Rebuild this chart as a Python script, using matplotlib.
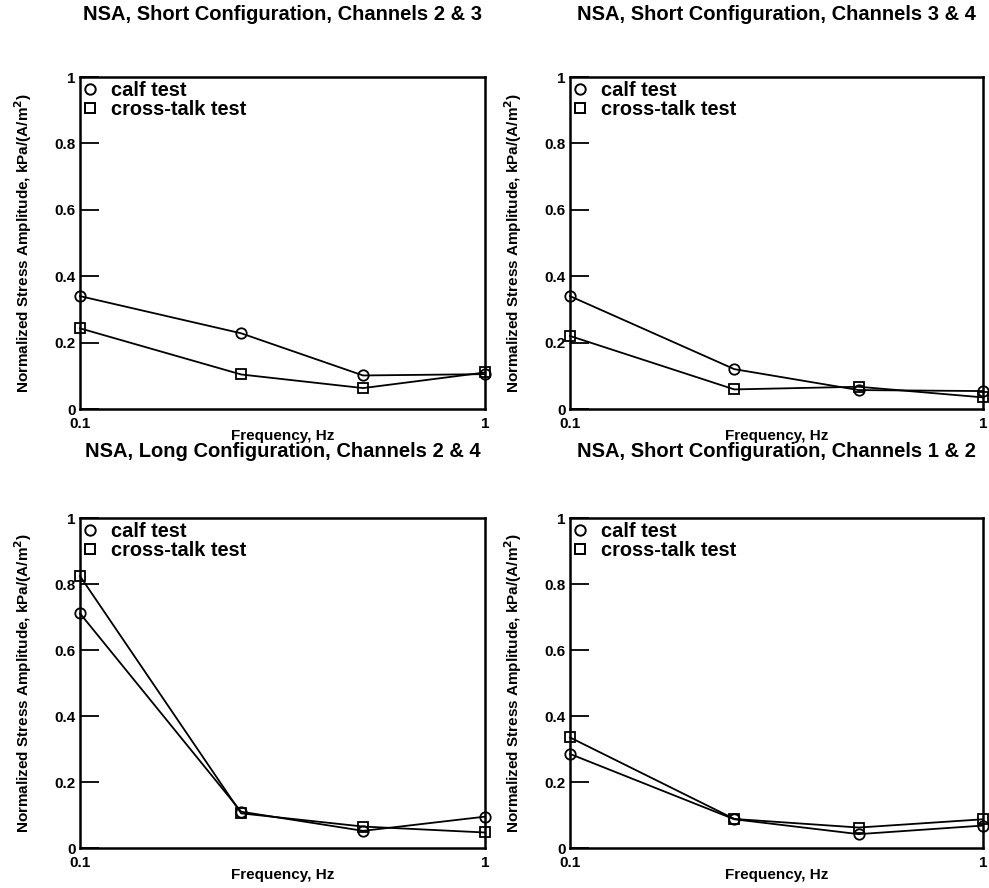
import matplotlib
matplotlib.use("Agg")
import matplotlib.pyplot as plt
from matplotlib.lines import Line2D

plt.rcParams['font.family'] = ['Liberation Sans', 'DejaVu Sans']
plt.rcParams['font.weight'] = 'bold'
plt.rcParams['mathtext.default'] = 'bf'

freq = [0.1, 0.25, 0.5, 1.0]
titles = ["NSA, Short Configuration, Channels 2 & 3",
          "NSA, Short Configuration, Channels 3 & 4",
          "NSA, Long Configuration, Channels 2 & 4",
          "NSA, Short Configuration, Channels 1 & 2"]
calf = [[0.34, 0.228, 0.101, 0.105],
        [0.34, 0.12, 0.057, 0.054],
        [0.711, 0.11, 0.052, 0.095],
        [0.285, 0.087, 0.042, 0.068]]
cross = [[0.243, 0.104, 0.063, 0.11],
         [0.22, 0.059, 0.067, 0.035],
         [0.824, 0.105, 0.065, 0.047],
         [0.335, 0.088, 0.062, 0.087]]
yticks = [0, 0.2, 0.4, 0.6, 0.8, 1]
ytick_labels = ["0", "0.2", "0.4", "0.6", "0.8", "1"]
xticks = [0.1, 1]
xtick_labels = ["0.1", "1"]

W, H = 989, 888
fig = plt.figure(figsize=(W / 100, H / 100), dpi=100)
boxes = [(80, 77, 485, 409), (570, 77, 983, 409),
         (80, 518, 485, 848), (570, 518, 983, 848)]

for i, (x0, y0, x1, y1) in enumerate(boxes):
    w, h = x1 - x0, y1 - y0
    ax = fig.add_axes([x0 / W, 1 - y1 / H, w / W, h / H])
    ax.set_xscale('log')
    ax.set_xlim(0.1, 1)
    ax.set_ylim(0, 1)
    ax.plot(freq, calf[i], color='black', lw=1.3, marker='o', ms=7.5,
            mfc='none', mec='black', mew=1.3, clip_on=False, zorder=3)
    ax.plot(freq, cross[i], color='black', lw=1.3, marker='s', ms=7.5,
            mfc='none', mec='black', mew=1.3, clip_on=False, zorder=3)
    ax.set_yticks(yticks)
    ax.set_yticklabels(ytick_labels, fontsize=11, fontweight='bold')
    ax.set_xticks(xticks)
    ax.set_xticklabels(xtick_labels, fontsize=11, fontweight='bold')
    ax.xaxis.set_minor_locator(matplotlib.ticker.NullLocator())
    ax.tick_params(axis='y', direction='in', length=14, width=1.3, pad=3)
    ax.tick_params(axis='x', length=0, pad=6)
    for s in ax.spines.values():
        s.set_linewidth(1.8)
    ax.set_xlabel("Frequency, Hz", fontsize=11, fontweight='bold')
    ax.xaxis.set_label_coords(0.5, -20 / h)
    ax.set_ylabel("Normalized Stress Amplitude, kPa/(A/m$^2$)", fontsize=11,
                  fontweight='bold')
    ax.yaxis.set_label_coords(-46 / w, 0.5)
    ax.set_title(titles[i], fontsize=14.5, fontweight='bold',
                 pad=41 if i < 2 else 44)
    handles = [Line2D([], [], ls='none', marker='o', ms=7.5, mfc='none', mec='black', mew=1.4),
               Line2D([], [], ls='none', marker='s', ms=7.5, mfc='none', mec='black', mew=1.4)]
    ax.legend(handles, ["calf test", "cross-talk test"], loc='upper left',
              frameon=False, prop={'size': 14.4, 'weight': 'bold'},
              handlelength=0.6, handletextpad=0.75, borderaxespad=0.0,
              labelspacing=0.0, borderpad=0.22)

fig.savefig("out.png", dpi=100)
